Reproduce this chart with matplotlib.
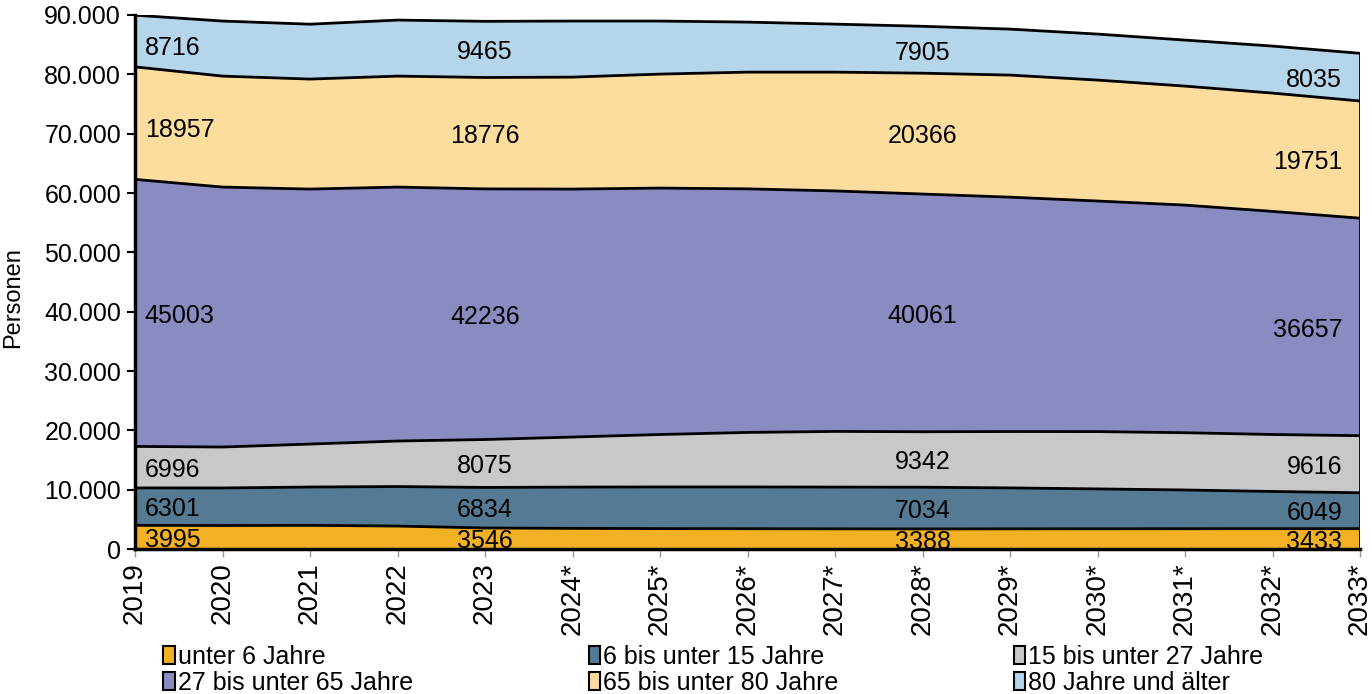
import numpy as np
import matplotlib.pyplot as plt
from matplotlib.patches import Patch
from matplotlib.ticker import FuncFormatter

plt.rcParams['font.family'] = ['Liberation Sans', 'DejaVu Sans']

years = ['2019', '2020', '2021', '2022', '2023', '2024*', '2025*', '2026*',
         '2027*', '2028*', '2029*', '2030*', '2031*', '2032*', '2033*']

unter_6 = [3995, 3960, 3990, 3870, 3546, 3480, 3440, 3420, 3400, 3388, 3400, 3410, 3420, 3430, 3433]
von_6_15 = [6301, 6330, 6460, 6660, 6834, 6960, 7020, 7040, 7040, 7034, 6900, 6720, 6530, 6270, 6049]
von_15_27 = [6996, 6900, 7240, 7670, 8075, 8430, 8840, 9190, 9380, 9342, 9500, 9660, 9650, 9600, 9616]
von_27_65 = [45003, 43810, 42970, 42800, 42236, 41790, 41530, 41050, 40530, 40061, 39500, 38860, 38360, 37600, 36657]
von_65_80 = [18957, 18700, 18540, 18700, 18776, 18870, 19210, 19670, 20020, 20366, 20570, 20380, 20055, 19935, 19751]
ab_80 = [8716, 9280, 9250, 9440, 9465, 9450, 8940, 8430, 8090, 7905, 7750, 7750, 7755, 7925, 8035]

series = [unter_6, von_6_15, von_15_27, von_27_65, von_65_80, ab_80]
names = ['unter 6 Jahre', '6 bis unter 15 Jahre', '15 bis unter 27 Jahre',
         '27 bis unter 65 Jahre', '65 bis unter 80 Jahre', '80 Jahre und älter']
colors = ['#F2B124', '#547B93', '#C8C8C8', '#898BC1', '#FDDD9E', '#B5D5EB']

# years with data labels
label_idx = [0, 4, 9, 14]

fig = plt.figure(figsize=(13.72, 6.94), dpi=100)
ax = fig.add_axes([0.0984, 0.2089, 0.8929, 0.7695])

x = np.arange(len(years))
data = np.array(series, dtype=float)
cum = np.cumsum(data, axis=0)
base = np.zeros(len(years))
for i in range(len(series)):
    ax.fill_between(x, base, cum[i], facecolor=colors[i], edgecolor='none', zorder=1)
    ax.plot(x, cum[i], color='black', linewidth=2, zorder=2)
    base = cum[i]
ax.plot([x[-1], x[-1]], [0, cum[-1][-1]], color='black', linewidth=2, zorder=2)

# data labels in the middle of each band
for i in range(len(series)):
    lower = cum[i - 1] if i > 0 else np.zeros(len(years))
    for j in label_idx:
        mid = (lower[j] + cum[i][j]) / 2
        dy = -2
        if j == 0:
            ha, dx = 'left', 7
            if i >= 4:
                dy = -5
        elif j == len(years) - 1:
            ha, dx = 'right', -13
        else:
            ha, dx = 'center', 0
        ax.annotate(str(series[i][j]), (x[j], mid), xytext=(dx, dy),
                    textcoords='offset points', ha=ha, va='center',
                    fontsize=18, zorder=3)

ax.set_xlim(0, len(years) - 1)
ax.set_ylim(0, 90000)
ax.set_yticks(np.arange(0, 90001, 10000))
ax.yaxis.set_major_formatter(FuncFormatter(lambda v, p: f'{int(v):,}'.replace(',', '.')))
ax.set_xticks(x)
ax.set_xticklabels(years, rotation=90)
ax.tick_params(axis='y', labelsize=18, length=6, width=1.5, direction='out', pad=4)
ax.tick_params(axis='x', labelsize=20, length=6, width=1, color='#999999', direction='out')
fig.text(13 / 1372, 1 - 298 / 694, 'Personen', rotation=90, fontsize=17,
         ha='center', va='center')

for s in ['top', 'right']:
    ax.spines[s].set_visible(False)
ax.spines['left'].set_linewidth(2.5)
ax.spines['bottom'].set_linewidth(2.5)

# legend: three columns, two rows
handles = [Patch(facecolor=c, edgecolor='black', linewidth=1.5) for c in colors]
col_x = [0.119, 0.429, 0.739]
for k in range(3):
    leg = fig.legend([handles[k], handles[k + 3]], [names[k], names[k + 3]],
                     loc='upper left', bbox_to_anchor=(col_x[k], 0.071),
                     frameon=False, fontsize=18, handlelength=0.45, handleheight=0.75,
                     handletextpad=0.12, labelspacing=0.08, borderaxespad=0, borderpad=0)

fig.savefig('out.png', dpi=100)
